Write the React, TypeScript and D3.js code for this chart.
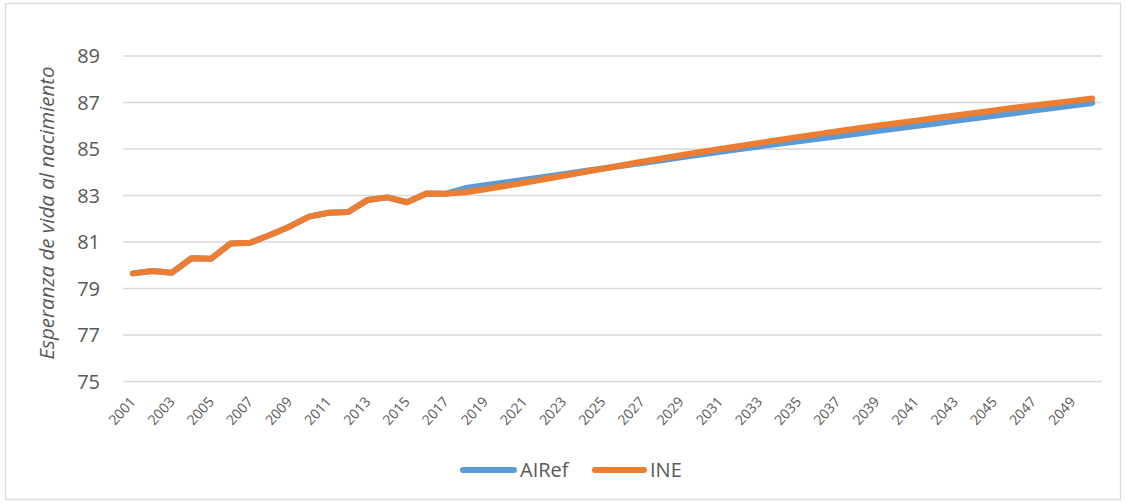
import React from "react";
import * as d3 from "d3";

const years: number[] = d3.range(2001, 2051);
const airef: number[] = [
  79.65, 79.75, 79.68, 80.3, 80.28, 80.94, 80.97, 81.3, 81.66, 82.09,
  82.26, 82.29, 82.81, 82.92, 82.71, 83.09, 83.08,
  83.32, 83.44, 83.56, 83.68, 83.8, 83.92, 84.04, 84.16, 84.28, 84.4,
  84.52, 84.64, 84.76, 84.88, 85.0, 85.11, 85.22, 85.33, 85.44, 85.55,
  85.66, 85.77, 85.88, 85.99, 86.1, 86.21, 86.32, 86.43, 86.54, 86.65,
  86.76, 86.87, 86.98,
];
const ine: number[] = [
  79.65, 79.75, 79.68, 80.3, 80.28, 80.94, 80.97, 81.3, 81.66, 82.09,
  82.26, 82.29, 82.81, 82.92, 82.71, 83.09, 83.08,
  83.14, 83.27, 83.41, 83.55, 83.7, 83.85, 84.0, 84.15, 84.3, 84.45,
  84.59, 84.73, 84.87, 85.0, 85.13, 85.26, 85.39, 85.52, 85.64, 85.76,
  85.88, 86.0, 86.11, 86.22, 86.33, 86.44, 86.55, 86.66, 86.77, 86.87,
  86.97, 87.07, 87.17,
];
const yTicks: number[] = [75, 77, 79, 81, 83, 85, 87, 89];
const seriesNames: string[] = ["AIRef", "INE"];
const seriesColors: string[] = ["#5B9BD5", "#ED7D31"];
const yTitle = "Esperanza de vida al nacimiento";

const W = 1126;
const H = 504;
const plot = { left: 123, right: 1102, top: 56, bottom: 381.5 };
const FONT = "'Open Sans', 'DejaVu Sans', sans-serif";
const TEXT = "#595959";

export default function App() {
  const x = d3
    .scaleBand<number>()
    .domain(years)
    .range([plot.left, plot.right]);
  const cx = (yr: number) => (x(yr) as number) + x.bandwidth() / 2;
  const y = d3.scaleLinear().domain([75, 89]).range([plot.bottom, plot.top]);
  const line = d3
    .line<number>()
    .x((_, i) => cx(years[i]))
    .y((d) => y(d));
  const series = [airef, ine];
  const labelYears = years.filter((yr) => (yr - 2001) % 2 === 0);

  const legendItems = [
    { x0: 460, x1: 517, tx: 520 },
    { x0: 592, x1: 647, tx: 650 },
  ];

  return (
    <svg
      width={W}
      height={H}
      style={{ position: "absolute", left: 0, top: 0, background: "#fff" }}
      fontFamily={FONT}
    >
      <rect x={5.5} y={3.5} width={1115} height={496} fill="#fff" stroke="#d9d9d9" strokeWidth={1.3} />
      {yTicks.map((t) => (
        <g key={t}>
          <line x1={plot.left} x2={plot.right} y1={y(t)} y2={y(t)} stroke="#d9d9d9" strokeWidth={1.3} />
          <text x={100} y={y(t)} dy="0.36em" textAnchor="end" fontSize={20} fill={TEXT}>
            {t}
          </text>
        </g>
      ))}
      {labelYears.map((yr) => (
        <text
          key={yr}
          transform={`translate(${cx(yr)},399) rotate(-48)`}
          dy="0.35em"
          textAnchor="end"
          fontSize={14}
          fill={TEXT}
        >
          {yr}
        </text>
      ))}
      <text
        transform="translate(47,213) rotate(-90)"
        dy="0.35em"
        textAnchor="middle"
        fontSize={20.5}
        fontStyle="italic"
        fill={TEXT}
      >
        {yTitle}
      </text>
      {series.map((s, i) => (
        <path
          key={seriesNames[i]}
          d={line(s) as string}
          fill="none"
          stroke={seriesColors[i]}
          strokeWidth={6}
          strokeLinejoin="round"
          strokeLinecap="round"
        />
      ))}
      {legendItems.map((it, i) => (
        <g key={seriesNames[i]}>
          <line x1={it.x0 + 3} x2={it.x1 - 3} y1={470} y2={470} stroke={seriesColors[i]} strokeWidth={6} strokeLinecap="round" />
          <text x={it.tx} y={477.3} fontSize={20} fill={TEXT}>
            {seriesNames[i]}
          </text>
        </g>
      ))}
    </svg>
  );
}
